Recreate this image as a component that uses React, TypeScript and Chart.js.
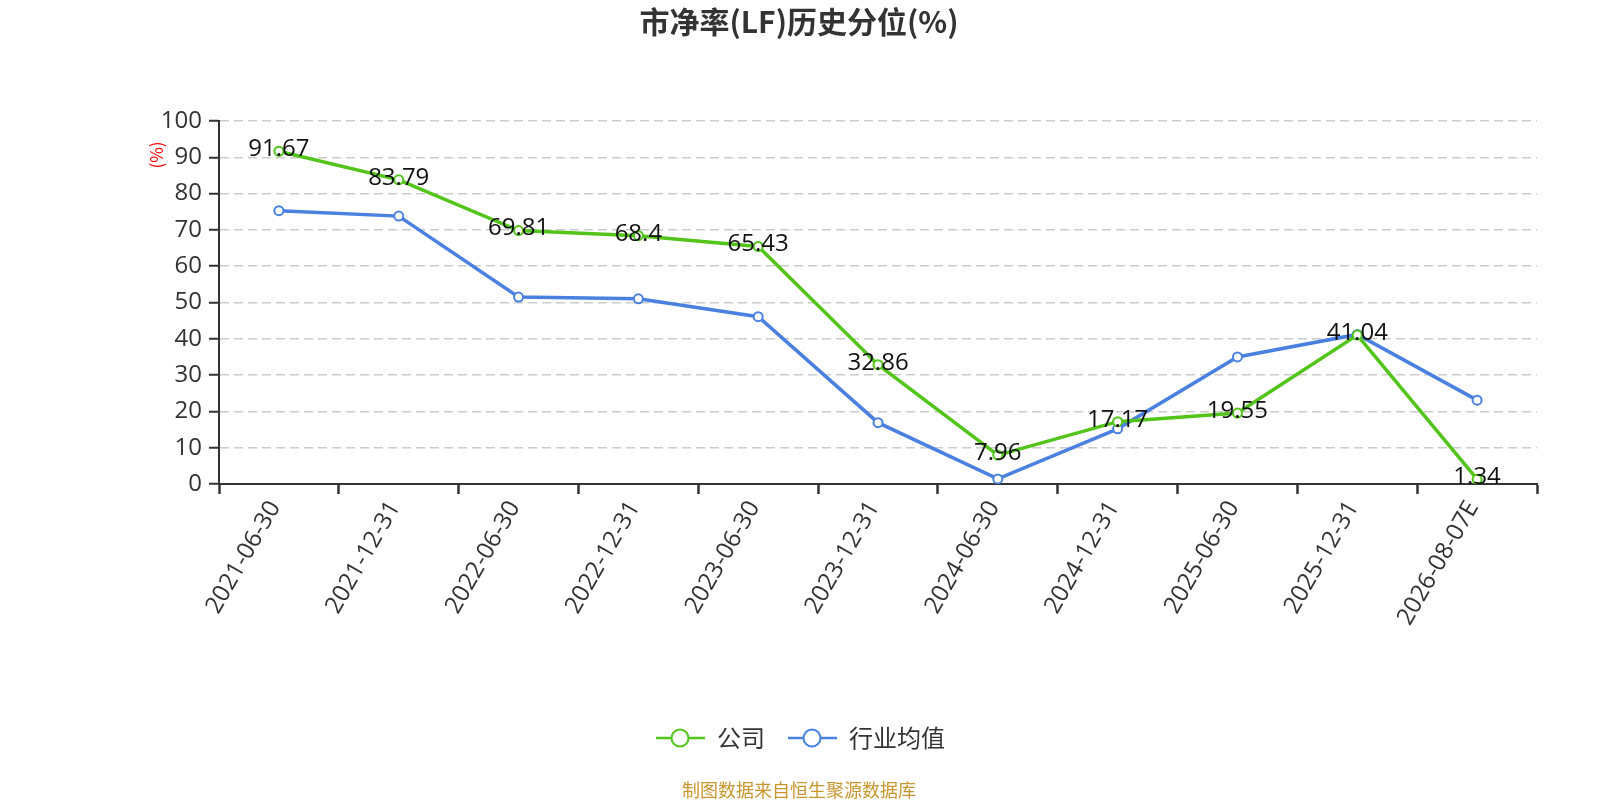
import React, { useEffect, useRef } from "react";
import { Chart, registerables } from "chart.js";

Chart.register(...registerables);

const categories = [
  "2021-06-30", "2021-12-31", "2022-06-30", "2022-12-31", "2023-06-30",
  "2023-12-31", "2024-06-30", "2024-12-31", "2025-06-30", "2025-12-31", "2026-08-07E",
];
const companyValues = [91.67, 83.79, 69.81, 68.4, 65.43, 32.86, 7.96, 17.17, 19.55, 41.04, 1.34];
const industryValues = [75.3, 73.8, 51.5, 51.0, 46.1, 16.9, 1.4, 15.2, 35.0, 41.2, 23.1];
const yTicks = [0, 10, 20, 30, 40, 50, 60, 70, 80, 90, 100];

const titleText = "市净率(LF)历史分位(%)";
const footerText = "制图数据来自恒生聚源数据库";
const yTitle = "(%)";
const seriesNames = ["公司", "行业均值"];
const GREEN = "#52c41a";
const BLUE = "#4a80e0";
const FONT = "'Open Sans', 'Noto Sans CJK SC', sans-serif";
const CJK = "'Noto Sans CJK SC', 'Open Sans', sans-serif";

const decorPlugin = {
  id: "decor",
  afterDatasetsDraw(chart: any) {
    const ctx = chart.ctx;
    const meta = chart.getDatasetMeta(0);
    ctx.save();
    ctx.font = `24px ${FONT}`;
    ctx.fillStyle = "#111";
    ctx.textAlign = "center";
    ctx.textBaseline = "middle";
    meta.data.forEach((pt: any, i: number) => {
      ctx.fillText(String(companyValues[i]), pt.x, pt.y - 2);
    });
    ctx.restore();
  },
  afterDraw(chart: any) {
    const ctx = chart.ctx;
    const cx = 799;
    ctx.save();
    ctx.font = `bold 30px ${CJK}`;
    ctx.fillStyle = "#333";
    ctx.textAlign = "center";
    ctx.textBaseline = "middle";
    ctx.fillText(titleText, cx, 22);
    ctx.save();
    ctx.translate(157, 155);
    ctx.rotate(-Math.PI / 2);
    ctx.font = `17px ${CJK}`;
    ctx.fillStyle = "#ff0000";
    ctx.fillText(yTitle, 0, 0);
    ctx.restore();
    const ly = 738;
    const items = [
      { cx: 680, color: GREEN, name: seriesNames[0] },
      { cx: 812, color: BLUE, name: seriesNames[1] },
    ];
    items.forEach((it) => {
      ctx.strokeStyle = it.color;
      ctx.lineWidth = 2.5;
      ctx.beginPath();
      ctx.moveTo(it.cx - 24, ly);
      ctx.lineTo(it.cx + 25, ly);
      ctx.stroke();
      ctx.beginPath();
      ctx.arc(it.cx, ly, 8.5, 0, Math.PI * 2);
      ctx.fillStyle = "#fff";
      ctx.fill();
      ctx.lineWidth = 2;
      ctx.stroke();
      ctx.font = `24px ${CJK}`;
      ctx.fillStyle = "#333";
      ctx.textAlign = "left";
      ctx.fillText(it.name, it.cx + 37, ly);
    });
    ctx.font = `18px ${CJK}`;
    ctx.fillStyle = "#c8962f";
    ctx.textAlign = "center";
    ctx.fillText(footerText, cx, 790);
    ctx.restore();
  },
};

export default function App() {
  const ref = useRef<HTMLCanvasElement | null>(null);
  useEffect(() => {
    if (!ref.current) return;
    const chart = new Chart(ref.current, {
      type: "line",
      data: {
        labels: categories,
        datasets: [
          {
            label: seriesNames[0],
            data: companyValues,
            borderColor: GREEN,
            backgroundColor: "#fff",
            borderWidth: 3.5,
            pointRadius: 4.5,
            pointBorderWidth: 2,
            pointBackgroundColor: "#fff",
            pointBorderColor: GREEN,
            tension: 0,
          },
          {
            label: seriesNames[1],
            data: industryValues,
            borderColor: BLUE,
            backgroundColor: "#fff",
            borderWidth: 3.5,
            pointRadius: 4.5,
            pointBorderWidth: 2,
            pointBackgroundColor: "#fff",
            pointBorderColor: BLUE,
            tension: 0,
          },
        ],
      },
      options: {
        animation: false,
        responsive: true,
        maintainAspectRatio: false,
        layout: { padding: { left: 0, right: 63, top: 121, bottom: 166 } },
        plugins: {
          legend: { display: false },
          title: { display: false },
          tooltip: { enabled: false },
        },
        scales: {
          x: {
            offset: true,
            grid: {
              offset: true,
              drawOnChartArea: false,
              drawTicks: true,
              tickLength: 10,
              tickColor: "#333",
              tickWidth: 2.5,
            },
            border: { color: "#333", width: 2 },
            ticks: {
              color: "#333",
              font: { size: 24, family: FONT },
              minRotation: 60,
              maxRotation: 60,
              autoSkip: false,
              padding: 2,
              labelOffset: -4,
            },
            afterFit: (s: any) => { s.height = 150; },
          },
          y: {
            min: 0,
            max: 100,
            afterBuildTicks: (s: any) => { s.ticks = yTicks.map((v) => ({ value: v })); },
            grid: {
              color: "#cccccc",
              lineWidth: 1.5,
              tickLength: 10,
              tickColor: "#333",
              tickWidth: 2,
              tickBorderDash: [],
            },
            border: { color: "#333", width: 2, dash: [9, 5] },
            ticks: {
              color: "#333",
              font: { size: 24, family: FONT },
              padding: 7,
            },
            afterFit: (s: any) => { s.width = 219; },
          },
        },
      },
      plugins: [decorPlugin],
    });
    return () => chart.destroy();
  }, []);
  return (
    <div style={{ position: "fixed", left: 0, top: 0, width: "1600px", height: "800px" }}>
      <canvas ref={ref} style={{ display: "block" }} />
    </div>
  );
}
